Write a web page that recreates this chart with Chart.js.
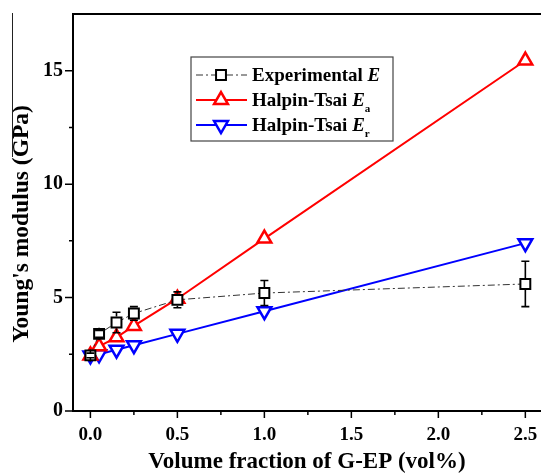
<!DOCTYPE html>
<html>
<head>
<meta charset="utf-8">
<script src="https://cdn.jsdelivr.net/npm/chart.js@4.4.1/dist/chart.umd.min.js"></script>
<style>
  html, body { margin: 0; padding: 0; background: #fff; }
  #wrap { width: 541px; height: 476px; }
</style>
</head>
<body>
<div id="wrap"><canvas id="myChart" width="541" height="476"></canvas></div>
<script>
// values
var volFrac = [0, 0.05, 0.15, 0.25, 0.5, 1.0, 2.5];
var expE    = [2.45, 3.4, 3.9, 4.3, 4.9, 5.2, 5.6];
var expErr  = [0.1, 0.15, 0.45, 0.3, 0.35, 0.55, 1.0];
var htEa    = [2.45, 2.85, 3.25, 3.75, 4.95, 7.6, 15.45];
var htEr    = [2.45, 2.5, 2.7, 2.9, 3.4, 4.4, 7.4];

var xTicks = [0, 0.25, 0.5, 0.75, 1.0, 1.25, 1.5, 1.75, 2.0, 2.25, 2.5];
var yTicks = [0, 2.5, 5, 7.5, 10, 12.5, 15];

var FONT = "'Liberation Serif', 'Times New Roman', serif";

function pts(ys) {
  return volFrac.map(function(x, i) { return {x: x, y: ys[i]}; });
}

// error bars, outer ticks, top frame line, y title
var extras = {
  id: 'extras',
  afterDatasetsDraw: function(chart) {
    var ctx = chart.ctx, xs = chart.scales.x, ys = chart.scales.y;
    ctx.save();
    ctx.strokeStyle = '#000';
    ctx.lineWidth = 1.6;
    volFrac.forEach(function(v, i) {
      var px = xs.getPixelForValue(v);
      var top = ys.getPixelForValue(expE[i] + expErr[i]);
      var bot = ys.getPixelForValue(expE[i] - expErr[i]);
      var mid = ys.getPixelForValue(expE[i]);
      ctx.beginPath();
      ctx.moveTo(px, top); ctx.lineTo(px, mid - 6);
      ctx.moveTo(px, mid + 6); ctx.lineTo(px, bot);
      ctx.moveTo(px - 4, top); ctx.lineTo(px + 4, top);
      ctx.moveTo(px - 4, bot); ctx.lineTo(px + 4, bot);
      ctx.stroke();
    });
    ctx.restore();
  },
  afterDraw: function(chart) {
    var ctx = chart.ctx, xs = chart.scales.x, ys = chart.scales.y, a = chart.chartArea;
    ctx.save();
    ctx.strokeStyle = '#000';
    ctx.lineWidth = 1.5;
    ctx.beginPath();
    xs.ticks.forEach(function(t) {
      var px = xs.getPixelForValue(t.value);
      var len = (t.value % 0.5 === 0) ? 7 : 4;
      ctx.moveTo(px, a.bottom); ctx.lineTo(px, a.bottom + len);
    });
    ys.ticks.forEach(function(t) {
      var py = ys.getPixelForValue(t.value);
      var len = (t.value % 5 === 0) ? 8 : 4;
      ctx.moveTo(a.left, py); ctx.lineTo(a.left - len, py);
    });
    ctx.stroke();
    ctx.lineWidth = 2;
    ctx.beginPath();
    ctx.moveTo(a.left - 1, a.top); ctx.lineTo(a.right, a.top);
    ctx.stroke();
    // y axis title
    ctx.save();
    ctx.translate(22, 224);
    ctx.rotate(-Math.PI / 2);
    ctx.fillStyle = '#000';
    ctx.font = 'bold 23.5px ' + FONT;
    ctx.textAlign = 'center';
    ctx.textBaseline = 'middle';
    ctx.fillText("Young's modulus (GPa)", 0, 0);
    ctx.restore();
    // thin stray rule beside the y title, as in the scan
    ctx.lineWidth = 1;
    ctx.strokeStyle = '#222';
    ctx.beginPath();
    ctx.moveTo(12.5, a.top - 1); ctx.lineTo(12.5, 157);
    ctx.stroke();
    ctx.restore();
  }
};

// legend with italic E and subscripts
var legendBox = {
  id: 'legendBox',
  afterDraw: function(chart) {
    var ctx = chart.ctx;
    var bx = 191, by = 57, bw = 202, bh = 84;
    ctx.save();
    ctx.fillStyle = '#fff';
    ctx.fillRect(bx, by, bw, bh);
    ctx.strokeStyle = '#444';
    ctx.lineWidth = 1.2;
    ctx.strokeRect(bx, by, bw, bh);
    var rows = [
      {ds: 0, y: 75, main: 'Experimental ', sub: ''},
      {ds: 1, y: 100, main: 'Halpin-Tsai ', sub: 'a'},
      {ds: 2, y: 125, main: 'Halpin-Tsai ', sub: 'r'}
    ];
    rows.forEach(function(r) {
      var d = chart.data.datasets[r.ds];
      ctx.save();
      ctx.strokeStyle = d.borderColor;
      ctx.lineWidth = d.borderWidth;
      ctx.setLineDash(d.borderDash || []);
      ctx.beginPath();
      ctx.moveTo(196, r.y); ctx.lineTo(247, r.y);
      ctx.stroke();
      ctx.restore();
      ctx.save();
      ctx.fillStyle = d.pointBackgroundColor;
      ctx.strokeStyle = d.pointBorderColor;
      ctx.lineWidth = d.pointBorderWidth;
      Chart.helpers.drawPoint(ctx, {pointStyle: d.pointStyle, rotation: d.pointRotation || 0,
        radius: d.pointRadius, borderWidth: d.pointBorderWidth}, 221, r.y);
      ctx.restore();
      ctx.fillStyle = '#000';
      ctx.textBaseline = 'middle';
      ctx.font = 'bold 19px ' + FONT;
      var x = 252;
      ctx.fillText(r.main, x, r.y + 1);
      x += ctx.measureText(r.main).width;
      ctx.font = 'italic bold 19px ' + FONT;
      ctx.fillText('E', x, r.y + 1);
      x += ctx.measureText('E').width;
      if (r.sub) {
        ctx.font = 'bold 11px ' + FONT;
        ctx.fillText(r.sub, x, r.y + 9);
      }
    });
    ctx.restore();
  }
};

var ctx = document.getElementById('myChart').getContext('2d');
var myChart = new Chart(ctx, {
  type: 'line',
  data: {
    datasets: [{
      label: 'Experimental E',
      data: pts(expE),
      borderColor: '#333',
      borderWidth: 1,
      borderDash: [7, 3, 2, 3],
      pointStyle: 'rect',
      pointRadius: 7,
      pointBorderWidth: 2,
      pointBorderColor: '#000',
      pointBackgroundColor: '#fff'
    }, {
      label: 'Halpin-Tsai Ea',
      data: pts(htEa),
      borderColor: '#ff0000',
      borderWidth: 2,
      pointStyle: 'triangle',
      pointRadius: 8,
      pointBorderWidth: 2.5,
      pointBorderColor: '#ff0000',
      pointBackgroundColor: '#fff'
    }, {
      label: 'Halpin-Tsai Er',
      data: pts(htEr),
      borderColor: '#0000ff',
      borderWidth: 2,
      pointStyle: 'triangle',
      pointRotation: 180,
      pointRadius: 8,
      pointBorderWidth: 2.5,
      pointBorderColor: '#0000ff',
      pointBackgroundColor: '#fff'
    }]
  },
  options: {
    responsive: false,
    animation: false,
    layout: { autoPadding: false, padding: { top: 14, right: 0, left: 0, bottom: 0 } },
    plugins: { legend: { display: false }, tooltip: { enabled: false } },
    scales: {
      x: {
        type: 'linear',
        min: -0.1,
        max: 2.59,
        afterBuildTicks: function(s) { s.ticks = xTicks.map(function(v) { return {value: v}; }); },
        afterFit: function(s) { s.height = 65; s.paddingLeft = 0; s.paddingRight = 0; },
        grid: { drawOnChartArea: false, drawTicks: true, tickLength: 7, tickColor: 'rgba(0,0,0,0)' },
        border: { color: '#000', width: 2 },
        ticks: {
          color: '#000',
          padding: 6,
          maxRotation: 0,
          autoSkip: false,
          font: { family: FONT, size: 19, weight: 'bold' },
          callback: function(v) { return (v % 0.5 === 0) ? v.toFixed(1) : ''; }
        },
        title: {
          display: true,
          text: 'Volume fraction of G-EP (vol%)',
          color: '#000',
          padding: { top: 0, bottom: 0 },
          font: { family: FONT, size: 23, weight: 'bold' }
        }
      },
      y: {
        min: 0,
        max: 17.5,
        afterBuildTicks: function(s) { s.ticks = yTicks.map(function(v) { return {value: v}; }); },
        afterFit: function(s) { s.width = 73; s.paddingTop = 0; s.paddingBottom = 0; },
        grid: { drawOnChartArea: false, drawTicks: true, tickLength: 8, tickColor: 'rgba(0,0,0,0)' },
        border: { color: '#000', width: 2 },
        ticks: {
          color: '#000',
          padding: 2,
          autoSkip: false,
          font: { family: FONT, size: 20, weight: 'bold' },
          callback: function(v) { return (v % 5 === 0) ? String(v) : ''; }
        },
        title: { display: false }
      }
    }
  },
  plugins: [extras, legendBox]
});
</script>
</body>
</html>
